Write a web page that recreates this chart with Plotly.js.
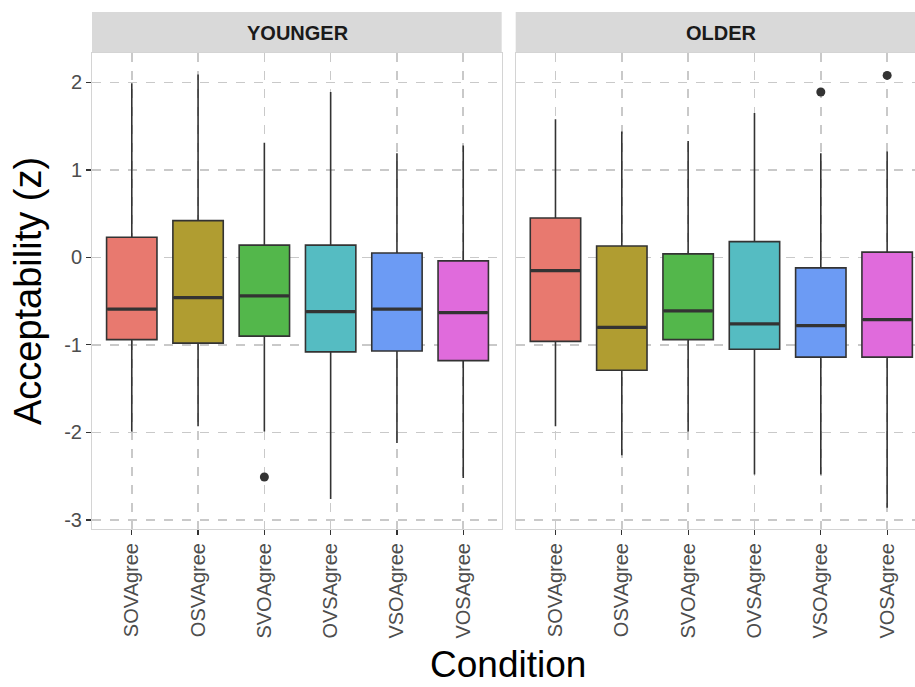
<!DOCTYPE html>
<html>
<head>
<meta charset="utf-8">
<script src="https://cdn.plot.ly/plotly-3.0.1.min.js"></script>
<style>html,body{margin:0;padding:0;background:#fff;}#chart{width:915px;height:687px;}</style>
</head>
<body>
<div id="chart"></div>
<script>
// ---- data ----
const conditions = ['SOVAgree','OSVAgree','SVOAgree','OVSAgree','VSOAgree','VOSAgree'];
const panels = ['YOUNGER','OLDER'];

const youngerLower  = [-1.99, -1.93, -1.99, -2.76, -2.12, -2.52];
const youngerQ1     = [-0.94, -0.98, -0.90, -1.08, -1.07, -1.18];
const youngerMedian = [-0.59, -0.46, -0.44, -0.62, -0.59, -0.63];
const youngerQ3     = [ 0.23,  0.42,  0.14,  0.14,  0.05, -0.04];
const youngerUpper  = [ 1.99,  2.09,  1.31,  1.89,  1.19,  1.28];
const youngerOutlierX = ['SVOAgree'];
const youngerOutlierY = [-2.51];

const olderLower  = [-1.93, -2.26, -1.99, -2.48, -2.48, -2.86];
const olderQ1     = [-0.96, -1.29, -0.94, -1.05, -1.14, -1.14];
const olderMedian = [-0.15, -0.80, -0.61, -0.76, -0.78, -0.71];
const olderQ3     = [ 0.45,  0.13,  0.04,  0.18, -0.12,  0.06];
const olderUpper  = [ 1.58,  1.44,  1.33,  1.65,  1.19,  1.21];
const olderOutlierX = ['VSOAgree','VOSAgree'];
const olderOutlierY = [1.89, 2.08];

const yTickVals = [-3, -2, -1, 0, 1, 2];
const yTickText = ['-3', '-2', '-1', '0', '1', '2'];

// ---- styles ----
const fills = ['#E8796F','#B09D31','#53B74B','#55BCC2','#6C9BF4','#E06BDC'];
const FONT = 'Liberation Sans, Arial, Helvetica, sans-serif';
const boxWidth = 0.76;

const traces = [];
const shapes = [];
const groups = [
  {xa:'x', ya:'y', lo:youngerLower, q1:youngerQ1, md:youngerMedian, q3:youngerQ3, up:youngerUpper, ox:youngerOutlierX, oy:youngerOutlierY},
  {xa:'x2', ya:'y2', lo:olderLower, q1:olderQ1, md:olderMedian, q3:olderQ3, up:olderUpper, ox:olderOutlierX, oy:olderOutlierY}
];
groups.forEach(g => {
  conditions.forEach((c, i) => {
    traces.push({
      type:'box', x:[c], q1:[g.q1[i]], median:[g.md[i]], q3:[g.q3[i]],
      lowerfence:[g.lo[i]], upperfence:[g.up[i]],
      xaxis:g.xa, yaxis:g.ya, width:boxWidth, whiskerwidth:0,
      fillcolor:fills[i], line:{color:'#333333', width:1.6},
      boxpoints:false, showlegend:false, hoverinfo:'y'
    });
    shapes.push({type:'line', xref:g.xa, yref:g.ya,
      x0:i - boxWidth/2 + 0.01, x1:i + boxWidth/2 - 0.01, y0:g.md[i], y1:g.md[i],
      line:{color:'#333333', width:3.2}, layer:'above'});
  });
  traces.push({type:'scatter', mode:'markers', x:g.ox, y:g.oy, xaxis:g.xa, yaxis:g.ya,
    marker:{color:'#333333', size:9}, showlegend:false, hoverinfo:'y'});
});

// strips
[['x','y'],['x2','y2']].forEach(([xa,ya]) => {
  shapes.push({type:'rect', xref:xa+' domain', yref:ya+' domain', x0:0, x1:1, y0:1.001, y1:1 + 41/476,
    fillcolor:'#D9D9D9', line:{width:0}, layer:'below'});
});

const xCommon = {
  type:'category', categoryorder:'array', categoryarray:conditions,
  showgrid:true, gridcolor:'#C9C9C9', gridwidth:1.5, griddash:'dash',
  showline:true, linecolor:'#D4D4D4', linewidth:1, mirror:true,
  ticks:'outside', ticklen:5, tickcolor:'#333333', tickwidth:1.2,
  tickangle:-90, tickfont:{family:FONT, size:20, color:'#4D4D4D'},
  zeroline:false, fixedrange:true
};
const yCommon = {
  range:[-3.104, 2.336], tickvals:yTickVals, ticktext:yTickText,
  showgrid:true, gridcolor:'#C9C9C9', gridwidth:1.5, griddash:'dash',
  showline:true, linecolor:'#D4D4D4', linewidth:1, mirror:true,
  zeroline:false, fixedrange:true
};

const layout = {
  width:915, height:687,
  margin:{l:92, r:0, t:53, b:158},
  paper_bgcolor:'#FFFFFF', plot_bgcolor:'#FFFFFF',
  font:{family:FONT},
  boxmode:'overlay',
  xaxis:Object.assign({}, xCommon, {domain:[0, 0.4978], range:[-0.6, 5.58], anchor:'y'}),
  xaxis2:Object.assign({}, xCommon, {domain:[0.5148, 1], range:[-0.6, 5.42], anchor:'y2'}),
  yaxis:Object.assign({}, yCommon, {anchor:'x',
    ticks:'outside', ticklen:5, tickcolor:'#333333', tickwidth:1.2,
    tickfont:{family:FONT, size:20, color:'#4D4D4D'},
    title:{text:'Acceptability (z)', font:{family:FONT, size:38, color:'#000000'}, standoff:10}}),
  yaxis2:Object.assign({}, yCommon, {anchor:'x2', matches:'y', showticklabels:false, ticks:''}),
  shapes:shapes,
  annotations:[
    {text:'<b>' + panels[0] + '</b>', xref:'x', yref:'y domain', x:2.5, y:1 + 20/476, showarrow:false,
      font:{family:FONT, size:20, color:'#1A1A1A'}, xanchor:'center', yanchor:'middle'},
    {text:'<b>' + panels[1] + '</b>', xref:'x2', yref:'y2 domain', x:2.5, y:1 + 20/476, showarrow:false,
      font:{family:FONT, size:20, color:'#1A1A1A'}, xanchor:'center', yanchor:'middle'},
    {text:'Condition', xref:'paper', yref:'paper', x:(508-92)/823, y:-(664-529)/476, showarrow:false,
      font:{family:FONT, size:37, color:'#000000'}, xanchor:'center', yanchor:'middle'}
  ]
};

Plotly.newPlot('chart', traces, layout, {displayModeBar:false, staticPlot:true});
</script>
</body>
</html>
